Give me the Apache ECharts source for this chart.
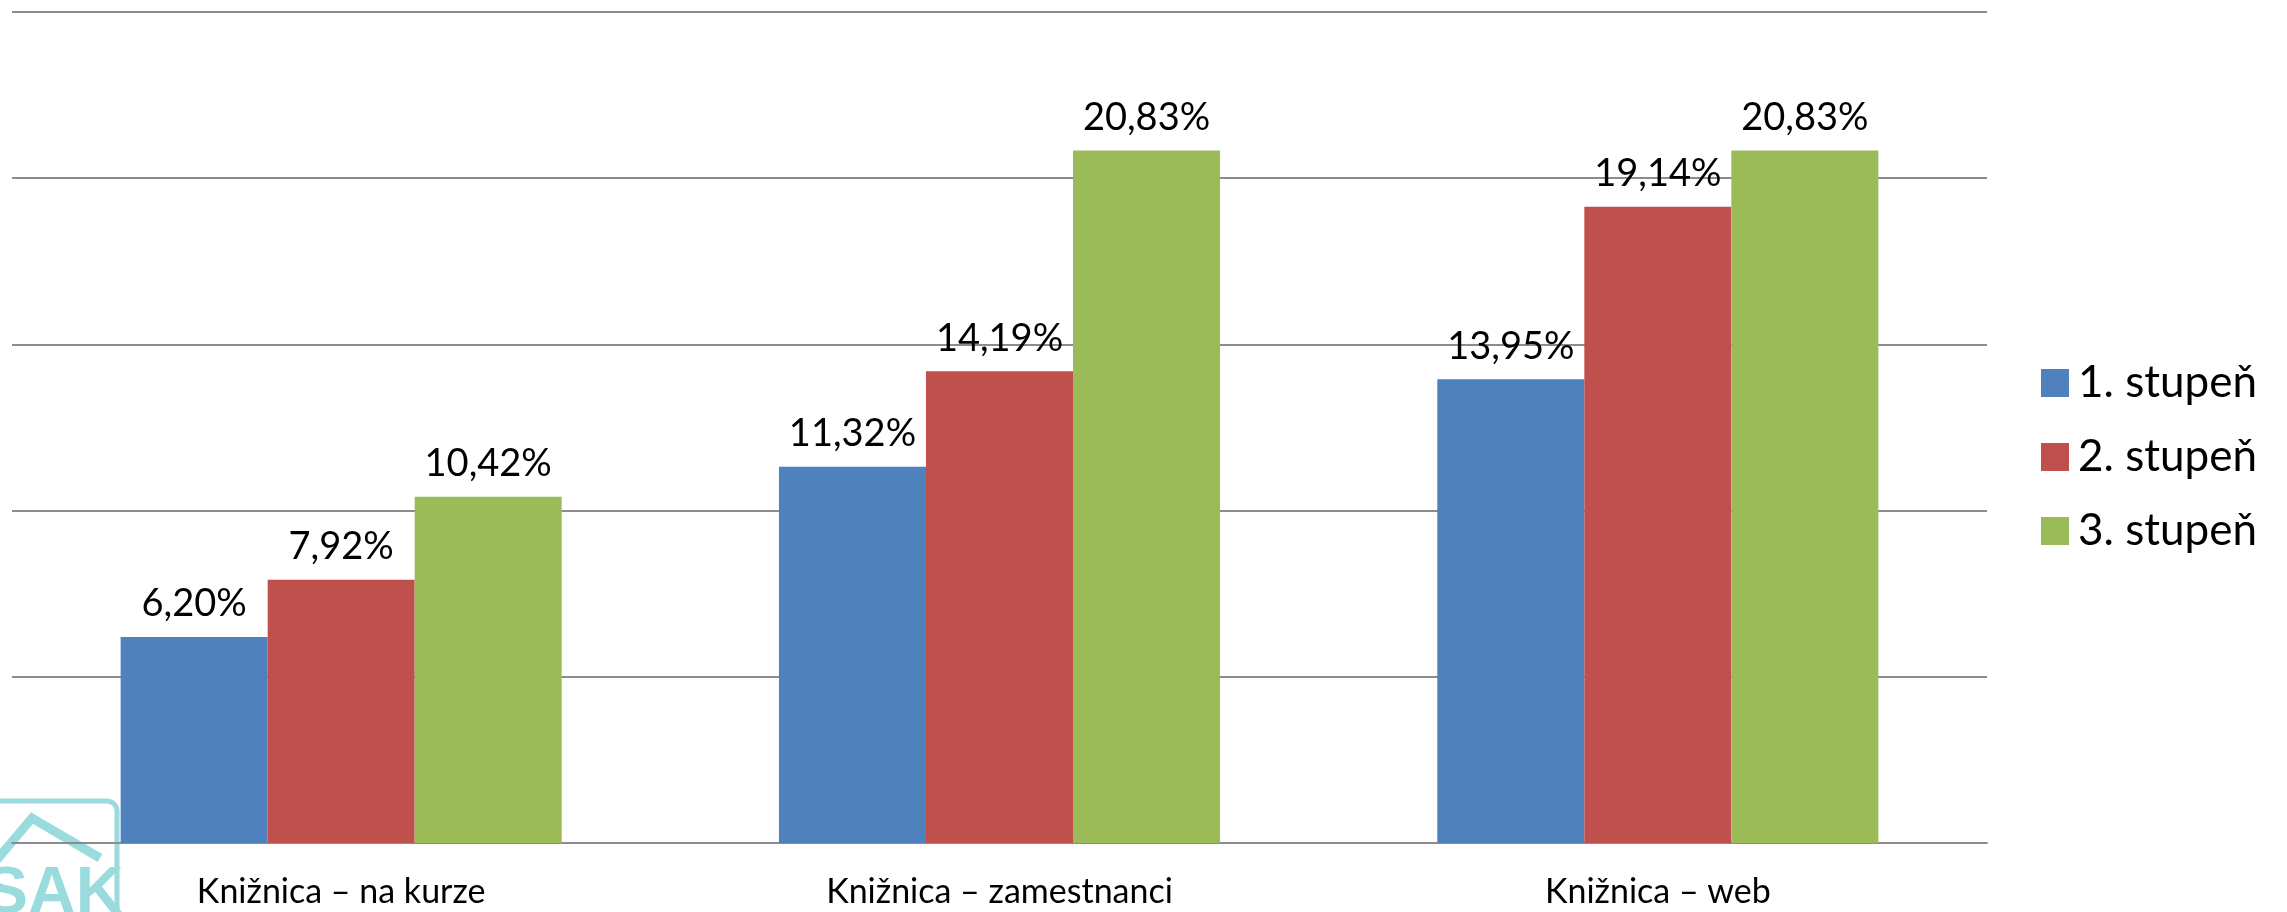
<!DOCTYPE html>
<html>
<head>
<meta charset="utf-8">
<script src="https://cdn.jsdelivr.net/npm/echarts@6/dist/echarts.min.js"></script>
<style>html,body{margin:0;padding:0;background:#fff}#c{width:2287px;height:912px}</style>
</head>
<body>
<div id="c"></div>
<script>
const categories = ['Knižnica – na kurze', 'Knižnica – zamestnanci', 'Knižnica – web'];
const seriesNames = ['1. stupeň', '2. stupeň', '3. stupeň'];
const stupen1 = [6.20, 11.32, 13.95];
const stupen2 = [7.92, 14.19, 19.14];
const stupen3 = [10.42, 20.83, 20.83];
const colors = ['#4F81BD', '#C0504D', '#9BBB59'];
const FONT = 'Lato, Carlito, Calibri, "Open Sans", sans-serif';

const chart = echarts.init(document.getElementById('c'));
const mk = (name, data, color) => ({
  name, type: 'bar', data, barGap: '0%', barCategoryGap: '33%',
  itemStyle: { color },
  label: {
    show: true, position: 'top', distance: 14,
    formatter: p => p.value.toFixed(2).replace('.', ',') + '%',
    fontFamily: FONT, fontSize: 38, color: '#000'
  }
});
chart.setOption({
  animation: false,
  grid: { left: 12, right: 300, top: 12, bottom: 69, containLabel: false },
  legend: {
    orient: 'vertical', left: 2036, top: 356,
    itemWidth: 28, itemHeight: 28, itemGap: 30, icon: 'rect',
    textStyle: { fontFamily: FONT, fontSize: 44, color: '#000', padding: [0, 0, 0, 4] },
    data: seriesNames
  },
  xAxis: {
    type: 'category', data: categories,
    axisLine: { lineStyle: { color: '#8c8c8c', width: 2 } },
    axisTick: { length: 12, lineStyle: { color: '#8c8c8c', width: 2 } },
    axisLabel: { interval: 0, margin: 32, fontFamily: FONT, fontSize: 34, color: '#000' }
  },
  yAxis: {
    type: 'value', min: 0, max: 25, interval: 5,
    axisLabel: { show: false }, axisLine: { show: false }, axisTick: { show: false },
    splitLine: { lineStyle: { color: '#8c8c8c', width: 2 } }
  },
  series: [
    mk(seriesNames[0], stupen1, colors[0]),
    mk(seriesNames[1], stupen2, colors[1]),
    mk(seriesNames[2], stupen3, colors[2])
  ],
  graphic: [
    { type: 'rect', shape: { x: -20, y: 801, width: 137, height: 140, r: 10 }, style: { fill: 'none', stroke: '#9adcde', lineWidth: 5 }, z: -1 },
    { type: 'polyline', shape: { points: [[-10, 868], [32, 818], [100, 858]] }, style: { fill: 'none', stroke: '#9adcde', lineWidth: 9 }, z: -1 },
    { type: 'text', left: -16, top: 862, style: { text: 'SAK', fontFamily: '"Liberation Sans", Arial, sans-serif', fontWeight: 'bold', fontSize: 66, fill: '#9adcde' }, z: -1 }
  ]
});
</script>
</body>
</html>
